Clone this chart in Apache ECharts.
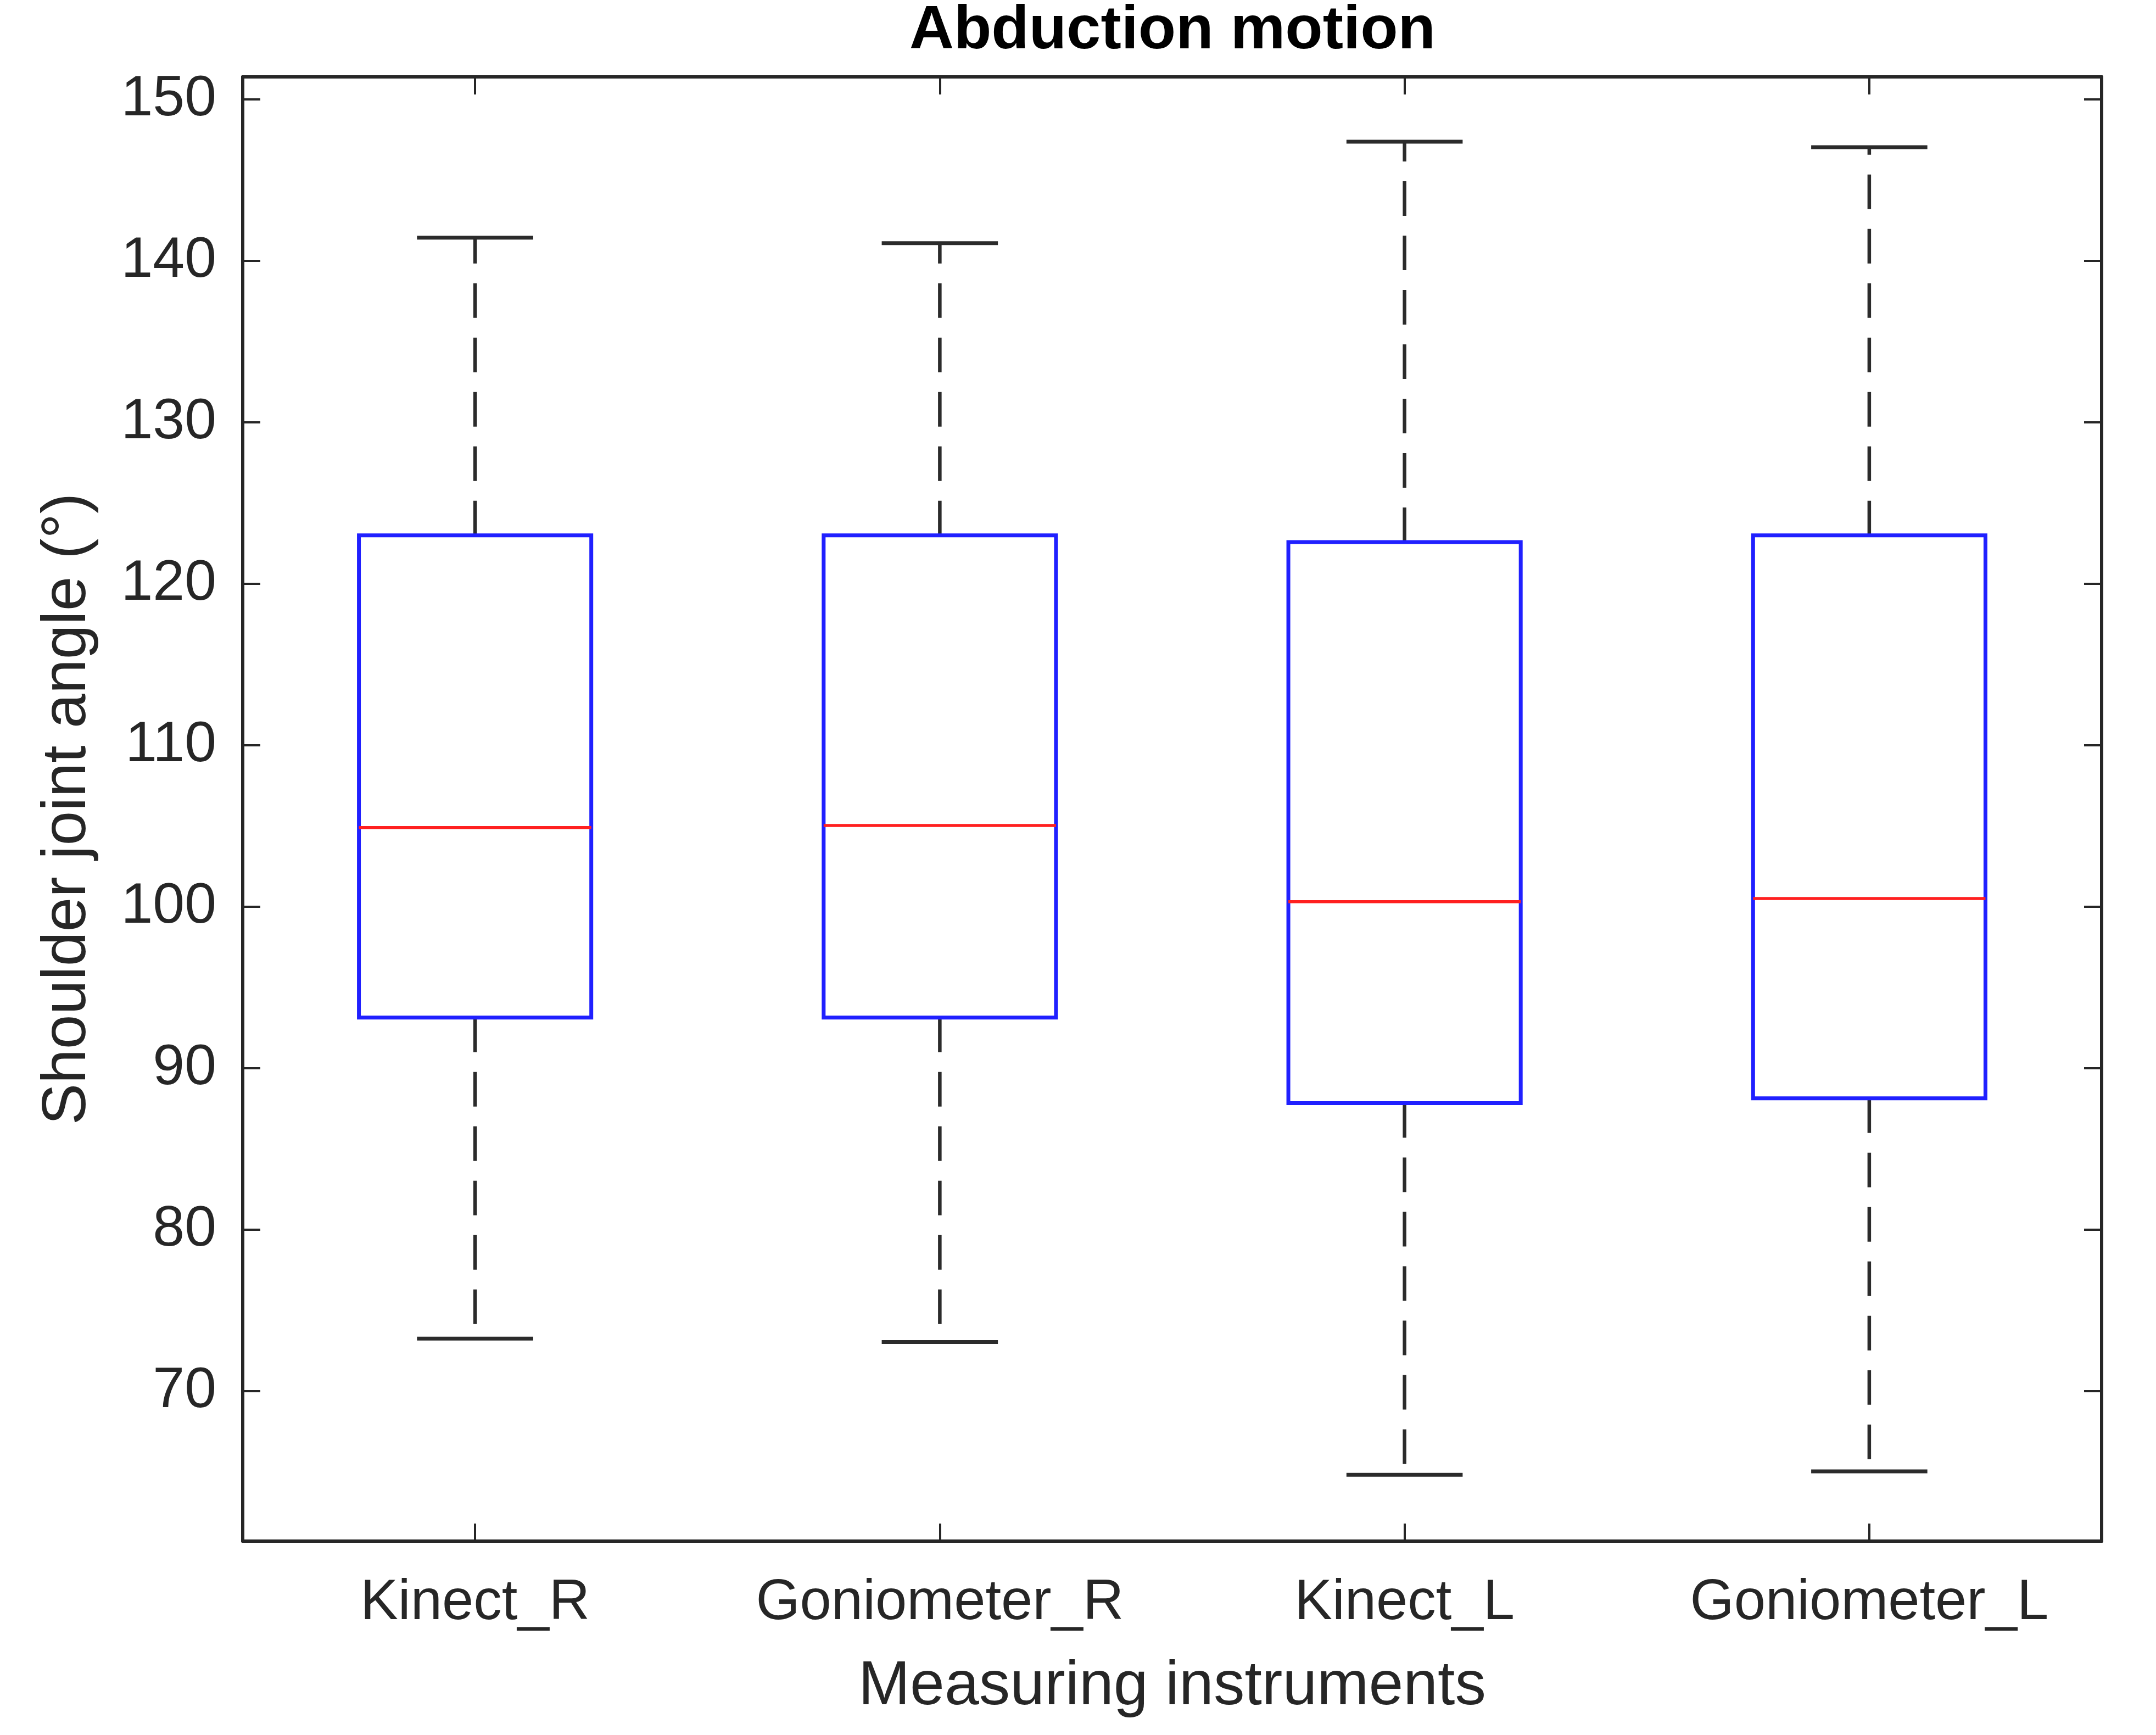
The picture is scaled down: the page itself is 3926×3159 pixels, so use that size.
<!DOCTYPE html>
<html>
<head>
<meta charset="utf-8">
<script src="https://cdn.jsdelivr.net/npm/echarts@6/dist/echarts.min.js"></script>
<style>
html,body{margin:0;padding:0;background:#fff;}
#chart{width:3926px;height:3159px;}
</style>
</head>
<body>
<div id="chart"></div>
<script>
// ---- data ----
const categories = ['Kinect_R', 'Goniometer_R', 'Kinect_L', 'Goniometer_L'];
const lowerWhisker = [73.25, 73.04, 64.82, 65.03];
const q1Values     = [93.13, 93.13, 87.84, 88.13];
const medianValues = [104.9, 105.03, 100.31, 100.51];
const q3Values     = [123.0, 123.0, 122.58, 123.0];
const upperWhisker = [141.43, 141.09, 147.38, 147.04];
const yMin = 60.71;
const yMax = 151.39;

const titleText = 'Abduction motion';
const xName = 'Measuring instruments';
const yName = 'Shoulder joint angle (°)';

const FONT = '"Liberation Sans", Arial, Helvetica, sans-serif';
const AXIS_COLOR = '#262626';

const boxData = categories.map((c, i) => [i, lowerWhisker[i], q1Values[i], medianValues[i], q3Values[i], upperWhisker[i]]);

function renderBox(params, api) {
  const idx = api.value(0);
  const lo = api.coord([idx, api.value(1)]);
  const q1 = api.coord([idx, api.value(2)]);
  const md = api.coord([idx, api.value(3)]);
  const q3 = api.coord([idx, api.value(4)]);
  const up = api.coord([idx, api.value(5)]);
  const band = api.size([1, 0])[0];
  const boxW = band * 0.5;
  const capW = band * 0.25;
  const cx = lo[0];
  const whiskerStyle = { stroke: '#2b2b2b', lineWidth: 6.5, lineDash: [63, 36], fill: null };
  const capStyle = { stroke: '#2b2b2b', lineWidth: 7, fill: null };
  return {
    type: 'group',
    children: [
      { type: 'line', shape: { x1: cx, y1: q3[1], x2: cx, y2: up[1] }, style: whiskerStyle },
      { type: 'line', shape: { x1: cx, y1: q1[1], x2: cx, y2: lo[1] }, style: whiskerStyle },
      { type: 'line', shape: { x1: cx - capW / 2, y1: up[1], x2: cx + capW / 2, y2: up[1] }, style: capStyle },
      { type: 'line', shape: { x1: cx - capW / 2, y1: lo[1], x2: cx + capW / 2, y2: lo[1] }, style: capStyle },
      { type: 'rect', shape: { x: cx - boxW / 2, y: q3[1], width: boxW, height: q1[1] - q3[1] },
        style: { stroke: '#2020ff', lineWidth: 7, fill: null } },
      { type: 'line', shape: { x1: cx - boxW / 2, y1: md[1], x2: cx + boxW / 2, y2: md[1] },
        style: { stroke: '#ff2020', lineWidth: 5.5, fill: null } }
    ]
  };
}

const tickLabelFmt = v => (Math.abs(v / 10 - Math.round(v / 10)) < 1e-6 ? String(Math.round(v)) : '');

const chart = echarts.init(document.getElementById('chart'), null, { renderer: 'canvas' });
chart.setOption({
  backgroundColor: '#ffffff',
  animation: false,
  title: {
    text: titleText,
    left: 2130,
    top: -4,
    textAlign: 'center',
    textStyle: { fontFamily: FONT, fontSize: 112, fontWeight: 'bold', color: '#000000' }
  },
  grid: { left: 442, right: 99, top: 140, bottom: 353, containLabel: false },
  xAxis: [
    {
      type: 'category',
      data: categories,
      position: 'bottom',
      boundaryGap: true,
      name: xName,
      nameLocation: 'middle',
      nameGap: 209,
      nameTextStyle: { fontFamily: FONT, fontSize: 113, color: AXIS_COLOR },
      axisLine: { show: true, lineStyle: { color: AXIS_COLOR, width: 6 } },
      axisTick: { show: true, inside: true, length: 32, alignWithLabel: true, interval: 0, lineStyle: { color: AXIS_COLOR, width: 4 } },
      axisLabel: { show: true, interval: 0, margin: 62, fontFamily: FONT, fontSize: 103, color: AXIS_COLOR },
      splitLine: { show: false }
    },
    {
      type: 'category',
      data: categories,
      position: 'top',
      boundaryGap: true,
      axisLine: { show: true, lineStyle: { color: AXIS_COLOR, width: 6 } },
      axisTick: { show: true, inside: true, length: 32, alignWithLabel: true, interval: 0, lineStyle: { color: AXIS_COLOR, width: 4 } },
      axisLabel: { show: false },
      splitLine: { show: false }
    }
  ],
  yAxis: [
    {
      type: 'value',
      position: 'left',
      min: yMin,
      max: yMax,
      splitNumber: 9,
      minInterval: 10,
      maxInterval: 10,
      name: yName,
      nameLocation: 'middle',
      nameRotate: 90,
      nameGap: 262,
      nameTextStyle: { fontFamily: FONT, fontSize: 113, color: AXIS_COLOR },
      axisLine: { show: true, lineStyle: { color: AXIS_COLOR, width: 6 } },
      axisTick: { show: true, inside: true, length: 32, lineStyle: { color: AXIS_COLOR, width: 4 } },
      axisLabel: { show: true, margin: 48, showMinLabel: false, showMaxLabel: false, formatter: tickLabelFmt,
                   fontFamily: FONT, fontSize: 104, color: AXIS_COLOR },
      splitLine: { show: false }
    },
    {
      type: 'value',
      position: 'right',
      min: yMin,
      max: yMax,
      splitNumber: 9,
      minInterval: 10,
      maxInterval: 10,
      axisLine: { show: true, lineStyle: { color: AXIS_COLOR, width: 6 } },
      axisTick: { show: true, inside: true, length: 32, lineStyle: { color: AXIS_COLOR, width: 4 } },
      axisLabel: { show: false },
      splitLine: { show: false }
    }
  ],
  series: [
    {
      type: 'custom',
      xAxisIndex: 0,
      yAxisIndex: 0,
      renderItem: renderBox,
      encode: { x: 0, y: [1, 2, 3, 4, 5] },
      data: boxData,
      clip: false,
      z: 5
    }
  ]
});
</script>
</body>
</html>
